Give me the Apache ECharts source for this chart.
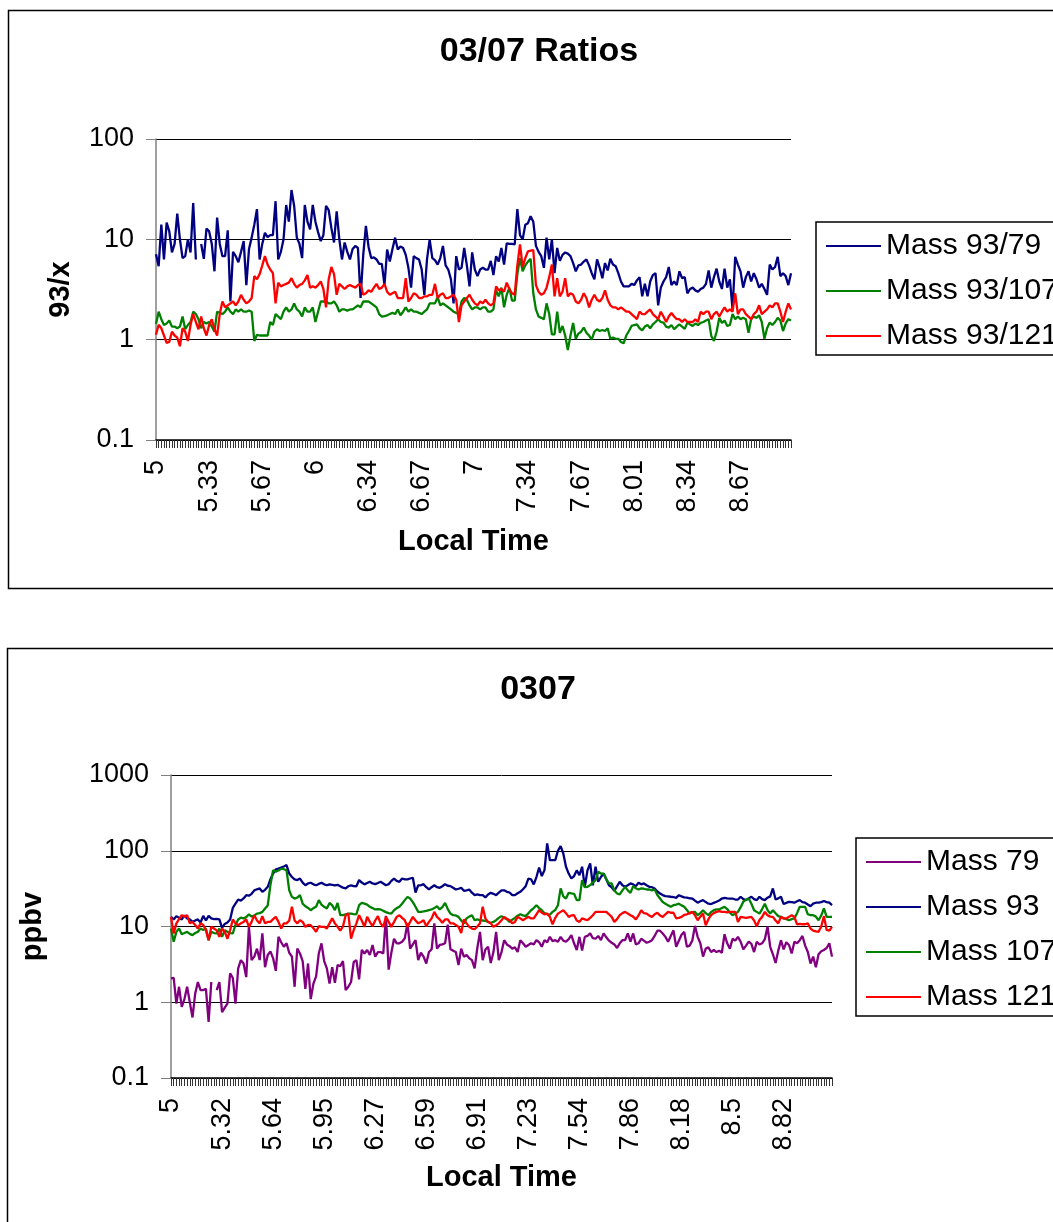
<!DOCTYPE html>
<html>
<head>
<meta charset="utf-8">
<script src="https://cdn.jsdelivr.net/npm/echarts@6/dist/echarts.min.js"></script>
<style>
  html, body { margin: 0; padding: 0; background: #fff; }
  #chart { width: 1053px; height: 1222px; }
</style>
</head>
<body>
<div id="chart"></div>
<script>
// Local-time tick labels (one label every 20 / 19 one-minute samples)
const ratioTicks = ['5', '5.33', '5.67', '6', '6.34', '6.67', '7', '7.34', '7.67', '8.01', '8.34', '8.67'];
const massTicks = ['5', '5.32', '5.64', '5.95', '6.27', '6.59', '6.91', '7.23', '7.54', '7.86', '8.18', '8.5', '8.82'];

// 03/07 ratio series (93/x)
const ratio93_79 = [
  7.1, 5.4, 14, 6.3, 14.7, 12, 7.4, 9, 18, 10,
  6.5, 6.8, 10, 7.4, 23, 6.3, null, 9, 6.4, 12.8,
  12, 9, 4.8, 16.5, 9, 6.8, 6.8, 12.3, 2.4, 7.5,
  6.8, 5.9, 7.5, 9.6, 3.5, 8, 10.4, 14, 20, 6.3,
  9, 11.6, 10.5, 11, 11, 24, 6.3, 7.5, 10, 22,
  15, 31, 21.5, 10.4, 9, 6.5, 22, 15, 12.6, 22,
  15, 11.8, 9.6, 11, 21.5, 19.5, 13, 9.3, 19, 10,
  6.3, 9.3, 7.5, 6.3, 8, 8.6, 8.2, 2.6, 7, 13.6,
  8.4, 6.5, 6.6, 6.3, 5.7, 5.7, 3.5, 7.9, 6, 8,
  10.4, 7.9, 8.5, 8.2, 7, 5.2, 3.3, 6.8, 6.5, 6.3,
  5, 2.8, 6.3, 10, 6.5, 6.2, 5.6, 6.5, 8.6, 5.5,
  5, 4, 2.3, 6.8, 5, 5.2, 8.2, 5.5, 3.4, 7.4,
  5, 4.3, 5, 5.2, 5, 5, 6.1, 4.4, 6.8, 6,
  8.2, 5.6, 9.1, 9, 9, 8.9, 20, 11, 10, 14,
  14.5, 17, 15, 8.6, 7.5, 6.8, 5.2, 10.4, 6.3, 10,
  4.6, 8.2, 6.1, 7, 7.4, 7.2, 6.8, 5.8, 4.8, 5.5,
  5.6, 6, 6.3, 5.5, 4.6, 4, 6.3, 5.2, 4.1, 5.8,
  4.9, 6.4, 5.6, 5.4, 4.6, 3.8, 3.4, 3.4, 3.4, 3.6,
  3.5, 3.9, 4.2, 2.7, 3.6, 2.7, 3.8, 4.4, 4.6, 2.2,
  3.3, 3.8, 4.2, 5.3, 3.5, 3.8, 3.5, 4.8, 4.1, 4.2,
  2.9, 3.2, 3.3, 3.1, 3.0, 3.2, 3.3, 3.6, 4.9, 3.3,
  4.2, 5.1, 3.8, 3.2, 5.1, 3.3, 4, 2.0, 6.7, 5.6,
  4.8, 3.3, 4.2, 4.8, 3.8, 4.6, 4, 3.3, 3.6, 3.2,
  2.8, 5.6, 5, 5.3, 6.7, 4.3, 4.6, 4.3, 3.5, 4.6
];
const ratio93_107 = [
  1.43, 1.9, 1.6, 1.4, 1.45, 1.55, 1.35, 1.35, 1.3, 1.35,
  1.7, 1.27, 1.4, 1.5, 1.9, 1.8, 1.6, 1.3, 1.5, 1.45,
  1.5, 1.35, 1.2, 1.9, 1.85, 1.8, 1.9, 2.1, 1.9, 1.8,
  2.0, 1.9, 2.0, 1.9, 1.9, 1.95, 1.9, 0.97, 1.12, 1.1,
  1.1, 1.1, 1.1, 1.5, 1.4, 1.8, 1.7, 1.6, 1.9, 2.1,
  1.9, 2.0, 2.3, 2.0, 1.9, 1.7, 2.1, 1.9, 1.9, 2.1,
  1.5, 1.9, 2.4, 2.4, 2.4, 2.3, 2.3, 2.4, 2.2, 1.9,
  2.0, 2.0, 1.95, 2.0, 2.0, 2.1, 2.2, 2.1, 2.4, 2.4,
  2.4, 2.3, 2.2, 2.1, 1.8, 1.7, 1.72, 1.75, 1.8, 1.85,
  1.8, 2.0, 1.75, 1.9, 2.1, 1.9, 2.0, 1.9, 1.9, 1.85,
  1.8, 1.9, 2.0, 2.3, 2.3, 2.3, 2.65, 2.2, 2.3, 2.2,
  2.1, 2.0, 1.9, 1.85, 1.8, 2.4, 2.6, 2.5, 2.2, 2.0,
  2.1, 2.1, 2.0, 2.1, 2.1, 1.9, 1.9, 2.0, 3.1, 2.7,
  3.3, 2.1, 2.8, 3.3, 2.45, 2.45, 4.5, 6.5, 4.8, 5.5,
  6.0, 6.4, 2.9, 2.0, 1.7, 1.65, 1.6, 2.3, 1.8, 1.13,
  1.13, 1.9, 1.17, 1.37, 1.1, 0.79, 1.1, 1.47, 1.02, 1.15,
  1.2, 1.32, 1.17, 1.1, 1.0, 1.2, 1.27, 1.22, 1.25, 1.22,
  1.3, 1.02, 1.05, 1.02, 1.02, 0.95, 0.92, 1.1, 1.22, 1.37,
  1.4, 1.42, 1.3, 1.24, 1.35, 1.4, 1.3, 1.42, 1.5, 1.6,
  1.5, 1.48, 1.35, 1.32, 1.4, 1.27, 1.35, 1.42, 1.35, 1.28,
  1.48, 1.42, 1.37, 1.45, 1.4, 1.47, 1.5, 1.55, 1.6, 1.09,
  0.97, 1.2, 1.65, 1.47, 1.55, 1.37, 1.4, 1.8, 1.6, 1.7,
  1.6, 1.65, 1.6, 1.17, 1.6, 1.7, 1.65, 1.75, 1.5, 1.02,
  1.3, 1.48, 1.4, 1.5, 1.65, 1.55, 1.22, 1.45, 1.6, 1.55
];
const ratio93_121 = [
  1.12, 1.41, 1.3, 1.1, 0.93, 0.95, 1.2, 1.1, 1.05, 0.86,
  1.3, 1.2, 0.97, 1.4, 1.8, 1.5, 1.27, 1.7, 1.3, 1.1,
  1.4, 1.6, 1.27, 1.1, 1.8, 2.4, 2.1, 2.2, 2.3, 2.4,
  2.2, 2.4, 2.8, 2.5, 2.3, 2.4, 2.6, 4.3, 4.0, 4.5,
  5.5, 6.8, 5.6, 5, 4.6, 2.3, 3.7, 3.4, 3.5, 3.6,
  3.7, 4.1, 3.6, 3.3, 3.5, 3.6, 3.9, 4.4, 3.3, 3.4,
  3.3, 3.5, 3.8, 3.2, 2.1, 4, 5.3, 4.5, 2.8, 3.6,
  3.4, 3.2, 3.4, 3.5, 3.4, 3.3, 3.5, 3.6, 2.8, 2.9,
  3.1, 3.0, 3.3, 3.6, 3.2, 3.3, 3.6, 3.0, 2.8, 2.9,
  3.0, 2.6, 2.6, 2.6, 4.1, 2.4, 2.6, 2.9, 2.8, 2.6,
  2.6, 2.7, 2.7, 2.8, 2.8, 3.6, 2.6, 2.8, 2.9, 2.6,
  2.6, 2.7, 2.8, 2.5, 1.5, 2.2, 2.4, 2.6, 2.8, 2.5,
  2.3, 2.2, 2.4, 2.3, 2.5, 2.3, 2.2, 2.3, 3.4, 3.1,
  3.2, 3.0, 3.7, 3.2, 2.9, 2.8, 5.5, 8.9, 5.3, 6.5,
  7.6, 7.7, 7.8, 3.5, 3.0, 2.8, 2.9, 3.3, 4.2, 5.6,
  2.7, 4.1, 2.7, 3.0, 4.1, 2.7, 2.9, 2.8, 2.4, 2.3,
  2.5, 2.9, 2.6, 2.1, 2.5, 2.8, 2.5, 2.4, 2.6, 3.1,
  2.5, 2.2, 2.1, 2.1, 2.0, 2.1, 2.0, 1.9, 1.9, 1.8,
  1.7, 1.6, 1.9, 1.8, 1.8, 1.9, 2.0, 1.8, 1.7, 1.6,
  1.9, 1.7, 1.5, 1.7, 1.85, 1.7, 1.6, 1.6, 1.5, 1.6,
  1.5, 1.5, 1.5, 1.6, 1.5, 1.9, 1.8, 1.9, 1.9, 1.6,
  1.8, 1.9, 1.7, 1.9, 2.1, 1.9, 2.0, 1.9, 2.9, 1.8,
  2.0, 2.0, 1.8, 1.7, 1.6, 1.8, 1.9, 2.2, 1.8, 1.9,
  2.0, 2.2, 2.1, 2.3, 2.3, 1.9, 1.5, 1.9, 2.3, 2.0
];

// 0307 mixing ratios (ppbv)
const mass79 = [
  2.06, 2.1, 0.96, 1.6, 0.87, 1.1, 1.6, 1.0, 0.63, 1.3,
  1.85, 1.45, 1.45, 1.5, 0.55, 1.85, null, 1.45, 1.85, 0.74,
  0.85, 0.96, 2.4, 2.1, 0.96, 2.8, 3.6, 3.25, 2.15, 10,
  3.6, 4.0, 5.1, 3.6, 8.1, 2.9, 4.2, 4.7, 3.8, 2.6,
  7.3, 6.2, 5.4, 6.0, 4.5, 4.0, 1.6, 5.1, 4.4, 3.5,
  1.5, 3.25, 1.1, 1.76, 2.2, 4.4, 6.0, 3.5, 2.8, 1.76,
  2.9, 1.8, 3.1, 3.0, 3.5, 1.45, 1.6, 1.85, 3.4, 3.6,
  2.0, 4.9, 4.4, 4.9, 4.2, 5.7, 4.0, 4.6, 4.6, 4.4,
  13.8, 2.7, 4.5, 6.9, 6.0, 6.0, 6.3, 7.0, 11, 5.1,
  5.8, 6.6, 3.6, 4.5, 4.0, 3.25, 4.6, 5.0, 11, 5.1,
  5.7, 5.8, 6.0, 10.6, 5.0, 4.8, 4.6, 3.1, 5.1, 4.0,
  4.2, 3.8, 3.6, 2.8, 5.2, 8.5, 3.6, 4.96, 5.4, 3.3,
  4.6, 8.5, 3.6, 4.6, 6.6, 5.8, 5.5, 5.1, 5.3, 4.6,
  6.6, 6.0, 5.4, 5.7, 6.0, 5.8, 6.6, 6.2, 5.4, 6.6,
  6.2, 7.3, 6.4, 6.6, 6.3, 7.3, 6.5, 6.3, 6.8, 7.7,
  6.0, 4.9, 7.3, 4.8, 7.3, 7.5, 8.1, 7.0, 6.9, 7.5,
  6.6, 8.1, 7.2, 6.5, 6.1, 5.8, 5.2, 6.0, 6.6, 6.6,
  8.1, 6.3, 8.1, 5.8, 6.0, 6.9, 6.5, 6.1, 6.3, 6.6,
  7.5, 8.8, 8.8, 8.1, 7.3, 6.3, 7.5, 8.9, 5.4, 6.5,
  7.8, 8.5, 5.4, 5.6, 6.5, 10.2, 7.3, 6.0, 4.0, 5.1,
  5.3, 4.6, 4.9, 4.6, 4.8, 4.5, 7.9, 6.0, 5.1, 6.9,
  6.5, 7.3, 6.3, 5.0, 5.6, 6.3, 5.9, 4.6, 6.3, 5.8,
  6.0, 6.8, 10, 5.4, 4.3, 3.3, 4.8, 6.6, 5.0, 6.2,
  5.7, 4.4, 6.3, 6.0, 6.6, 7.5, 5.6, 4.6, 3.25, 4.0,
  2.9, 4.3, 4.7, 4.9, 5.2, 6.0, 4.0
];
const mass93 = [
  13.4, 12.4, 13.7, 13, 12.4, 14, 12.8, 12.4, 11.5, 12,
  12.4, 11.3, 13.8, 12, 13.8, 12.8, 12.5, 12.6, 12.4, 9.6,
  10.8, 11.3, 12.4, 17.6, 20, 22.7, 22, 23.5, 25.9, 25.5,
  27, 30, 31, 31.8, 28.7, 30.5, 33.4, 42, 50, 56.6,
  58, 60, 62, 64.7, 50, 45, 41.8, 41, 43, 38,
  35, 37, 37.8, 36, 35, 36.5, 37.8, 36, 35, 36,
  35.5, 35, 35.5, 34, 32.5, 31.8, 34, 35, 34.1, 34,
  41, 38, 36, 37.5, 38.9, 37, 36.2, 37.5, 38.9, 37,
  35, 36.2, 40, 43, 40, 38.9, 43, 42, 41.8, 43,
  44, 28.1, 35, 35, 36.2, 33, 30.8, 33, 35, 33,
  32.4, 34, 36.2, 34.5, 34.1, 32.4, 30.8, 31.5, 32.4, 29.6,
  30, 30.8, 28, 25.9, 26.5, 25.9, 26, 24.2, 26.5, 27.8,
  27, 25.9, 28, 30, 30, 28.7, 28.1, 26, 25.9, 27.5,
  28.7, 31, 34.1, 43, 42, 35.9, 45, 60, 46.3, 55.5,
  125, 75, 75, 75, 100, 115, 92, 61.5, 50, 43,
  46.3, 55, 47.6, 61.5, 33.4, 55, 68, 35, 61.5, 38.9,
  45, 50, 42, 35, 33, 29.6, 34, 38.9, 35, 33.4,
  35, 37, 36, 34.1, 37.8, 36, 37, 35, 33.4, 33,
  31.8, 29, 27.3, 26, 25.2, 25, 24.7, 24.5, 23.9, 25.9,
  25, 24.2, 24, 23.6, 23.4, 22, 20.6, 21.5, 22.3, 21,
  20, 19.8, 20.5, 21.2, 22, 23.4, 23.9, 23.5, 23.4, 23.4,
  22.7, 22.7, 24.7, 23, 22.3, 23.5, 24.7, 23, 22.3, 24.7,
  23, 22.3, 24, 25, 31.8, 22.7, 23.5, 24.7, 19.8, 20.5,
  21.2, 21, 20.6, 21.5, 22.3, 21, 20.6, 19.5, 18.5, 20,
  20.6, 20.6, 21, 21.7, 21, 20.6, 19.2
];
const mass107 = [
  9.4, 6.3, 8.5, 9.4, 7.9, 8.2, 8.5, 8.0, 7.7, 8.2,
  8.5, 9.4, 9.0, 9.4, 6.6, 8.5, 8.2, 8.1, 9.4, 7.3,
  8.9, 8.5, 8.2, 8.1, 10.5, 12.4, 13.1, 12.8, 13.3, 14.5,
  13.5, 14, 14.8, 15, 15.6, 17.3, 19, 35.2, 55.5, 52.8,
  55, 58, 57, 55.5, 30, 24.6, 23.4, 24, 25.9, 20,
  18.5, 17.6, 16.4, 17.5, 18.2, 22.3, 19.5, 18.2, 17.3, 20.5,
  19, 16.4, 20.5, 14.1, 14.1, 14.5, 14.8, 14.8, 14.6, 14.5,
  19.1, 20.5, 20, 19.5, 18.2, 17.5, 16.8, 17, 16.8, 16.1,
  15.5, 15, 14.8, 16.4, 17.5, 18.2, 20, 22.3, 24.6, 23.4,
  21, 18.2, 15.6, 15.6, 15.8, 16.1, 16.5, 16.8, 17.5, 18.5,
  16.8, 18, 20.5, 17, 14.8, 14.1, 14, 13.4, 12, 11,
  12.8, 13.5, 14.1, 12.1, 12.4, 12.1, 12, 11.9, 11.5, 11.2,
  11.5, 12.1, 13, 13.7, 13, 12.5, 11.5, 12.3, 13, 13.9,
  14.5, 14, 13.7, 15, 16.4, 17.5, 19.1, 17.5, 16.4, 15,
  14.5, 14.3, 15.6, 16.5, 19.1, 31.8, 25, 23.4, 27.8, 27.3,
  27, 22.3, 22.3, 41, 33, 33.4, 35.2, 38, 41, 52.8,
  50, 50, 42, 37, 37, 30, 27.3, 26.5, 30, 33.4,
  30, 27.8, 34.1, 32, 30.8, 31.8, 31.5, 30.8, 30.8, 30,
  30.8, 26, 23.4, 21, 20, 19, 18.2, 19.1, 19.5, 20,
  19, 18.2, 16.5, 14.8, 15.5, 15.6, 14.1, 15, 16.4, 15,
  14.1, 15.5, 16.4, 16.8, 16.8, 17.5, 18.2, 17, 15.2, 14.1,
  14.8, 15.6, 18, 21.3, 22.5, 23.4, 20, 16.4, 15.6, 14.8,
  17, 20, 16.5, 14.8, 16.4, 15, 13.7, 13.4, 12.8, 12.5,
  12.1, 12.5, 12.8, 15, 18.2, 18.2, 18.2, 14.5, 14.1, 14.1,
  13.5, 12.1, 14, 17.3, 13.4, 13.4, 13.4
];
const mass121 = [
  13.4, 8.1, 11, 12.5, 14.1, 13.5, 14.1, 11, 11.5, 10.5,
  9.4, 11, 10.5, 8.9, 6.6, 9.9, 9.4, 8.9, 7.3, 9.4,
  8.5, 6.9, 8.9, 12.4, 11, 10.4, 11, 11.5, 12.4, 9.9,
  11.5, 14.1, 12, 11, 13.7, 11, 11.5, 11.5, 12.5, 13.4,
  11.5, 9.4, 11, 11, 12, 18.2, 12, 11, 12.1, 11.5,
  9.9, 10.5, 10.4, 9.5, 8.5, 10.1, 9.9, 9.9, 9.4, 11,
  12.8, 11, 9.9, 8.8, 10, 14.1, 14.8, 6.9, 9, 11,
  14.1, 12, 9.9, 13.4, 11.5, 10.1, 12, 13.7, 11, 9.9,
  13.4, 11.5, 9.9, 11.5, 13.4, 14.1, 13, 12.1, 9.9, 11.5,
  13.4, 12, 11, 11.5, 12.1, 10.1, 11.5, 12.8, 15.6, 13.4,
  12.4, 11.2, 12.4, 12.4, 11, 11, 10.5, 9.9, 8.2, 12.4,
  11, 9.9, 9.4, 9.2, 10, 11, 18.2, 12.8, 11.5, 11,
  9.9, 10.4, 11, 12.1, 13.4, 12.6, 12.1, 11, 11.5, 13.4,
  12.8, 12.1, 12.8, 13.4, 12.8, 12.8, 14.5, 16.4, 15.2, 14.5,
  14.8, 13.4, 10.7, 13, 14.8, 15.6, 16.4, 15, 13.4, 14,
  14.1, 12, 11.5, 12.8, 12.4, 12.1, 13, 14.1, 15.6, 15.6,
  15.6, 15.6, 15.6, 14.5, 13.4, 11.5, 12.5, 14.1, 15, 15.6,
  14.8, 14.1, 13.5, 12.4, 14, 16.4, 15, 14.8, 14, 13.4,
  14.5, 15.2, 14, 13.4, 14.5, 15.6, 15.2, 15.2, 12.8, 13,
  13.4, 14.2, 14.5, 15, 15.6, 14.1, 12.1, 13.5, 14.8, 10.4,
  12.5, 14.1, 15, 15.6, 16, 15.6, 15.6, 15.4, 15.6, 15.6,
  15.6, 11.5, 13.4, 13.2, 13, 13.2, 13.4, 12, 10.1, 12.2,
  13.4, 15.6, 14.1, 13.5, 13.4, 12, 11, 13.4, 12.8, 12.8,
  13.4, 14.1, 13.4, 10.7, 10.8, 10.7, 10.7, 11, 9.4, 8.8,
  8.6, 8.5, 10, 13.7, 9, 8.8, 9.9
];

const FONT = 'Arial, "Liberation Sans", Helvetica, sans-serif';
const NAVY = '#000080', GREEN = '#008000', RED = '#FF0000', PURPLE = '#800080';

const ratioCats = ratio93_79.map((_, i) => String(i));
const massCats = mass79.map((_, i) => String(i));

function xAxisFor(grid, cats, ticks, step, nameGap) {
  return {
    type: 'category', gridIndex: grid, data: cats, boundaryGap: false,
    axisLine: { lineStyle: { color: '#000', width: 1.5 } },
    axisTick: { interval: 0, length: 8, lineStyle: { color: '#333', width: 1 } },
    axisLabel: {
      interval: (i) => i % step === 0, rotate: 90, margin: 20,
      formatter: (v, i) => ticks[i / step] || '',
      fontFamily: FONT, fontSize: 27, color: '#000'
    },
    splitLine: { show: false },
    name: 'Local Time', nameLocation: 'middle', nameGap: nameGap,
    nameTextStyle: { fontFamily: FONT, fontSize: 29, fontWeight: 'bold', color: '#000' }
  };
}

function yAxisFor(grid, min, max, name, nameGap) {
  return {
    type: 'log', logBase: 10, gridIndex: grid, min: min, max: max,
    axisLine: { show: true, lineStyle: { color: '#808080', width: 1.5 } },
    axisTick: { show: true, length: 10, lineStyle: { color: '#808080' } },
    axisLabel: {
      margin: 22, fontFamily: FONT, fontSize: 27, color: '#000',
      formatter: (v) => String(+Number(v).toPrecision(3))
    },
    splitLine: { show: true, lineStyle: { color: '#000', width: 1 } },
    name: name, nameLocation: 'middle', nameGap: nameGap,
    nameTextStyle: { fontFamily: FONT, fontSize: 29, fontWeight: 'bold', color: '#000' }
  };
}

function lineSeries(name, data, color, axis) {
  return {
    type: 'line', name: name, data: data, xAxisIndex: axis, yAxisIndex: axis,
    showSymbol: false, symbol: 'none', connectNulls: false,
    lineStyle: { color: color, width: 2.3 }, itemStyle: { color: color }
  };
}

function legendFor(names, left, top) {
  return {
    data: names, orient: 'vertical', left: left, top: top,
    padding: [9, 40, 4, 10], itemGap: 15, itemWidth: 55, itemHeight: 2, icon: 'rect',
    borderColor: '#000', borderWidth: 1.5,
    textStyle: { fontFamily: FONT, fontSize: 30, color: '#000' },
    selectedMode: false
  };
}

const chart = echarts.init(document.getElementById('chart'), null, { renderer: 'canvas' });
chart.setOption({
  animation: false,
  backgroundColor: '#fff',
  title: [
    { text: '03/07 Ratios', left: 539, top: 35, textAlign: 'center', padding: 0,
      textStyle: { fontFamily: FONT, fontSize: 34, fontWeight: 'bold', color: '#000' } },
    { text: '0307', left: 538, top: 673, textAlign: 'center', padding: 0,
      textStyle: { fontFamily: FONT, fontSize: 34, fontWeight: 'bold', color: '#000' } }
  ],
  grid: [
    { left: 156, top: 139, width: 635, height: 301 },
    { left: 171, top: 775, width: 661, height: 303 }
  ],
  legend: [
    legendFor(['Mass 93/79', 'Mass 93/107', 'Mass 93/121'], 816, 222),
    legendFor(['Mass 79', 'Mass 93', 'Mass 107', 'Mass 121'], 856, 838)
  ],
  xAxis: [
    xAxisFor(0, ratioCats, ratioTicks, 20, 87),
    xAxisFor(1, massCats, massTicks, 19, 85)
  ],
  yAxis: [
    yAxisFor(0, 0.1, 100, '93/x', 81),
    yAxisFor(1, 0.1, 1000, 'ppbv', 124)
  ],
  series: [
    lineSeries('Mass 93/79', ratio93_79, NAVY, 0),
    lineSeries('Mass 93/107', ratio93_107, GREEN, 0),
    lineSeries('Mass 93/121', ratio93_121, RED, 0),
    lineSeries('Mass 79', mass79, PURPLE, 1),
    lineSeries('Mass 93', mass93, NAVY, 1),
    lineSeries('Mass 107', mass107, GREEN, 1),
    lineSeries('Mass 121', mass121, RED, 1)
  ],
  graphic: [
    { type: 'rect', silent: true, z: -1,
      shape: { x: 8.5, y: 10.5, width: 1200, height: 578 },
      style: { fill: null, stroke: '#000', lineWidth: 1.5 } },
    { type: 'rect', silent: true, z: -1,
      shape: { x: 7.5, y: 648.5, width: 1200, height: 700 },
      style: { fill: null, stroke: '#000', lineWidth: 1.5 } }
  ]
});
</script>
</body>
</html>
